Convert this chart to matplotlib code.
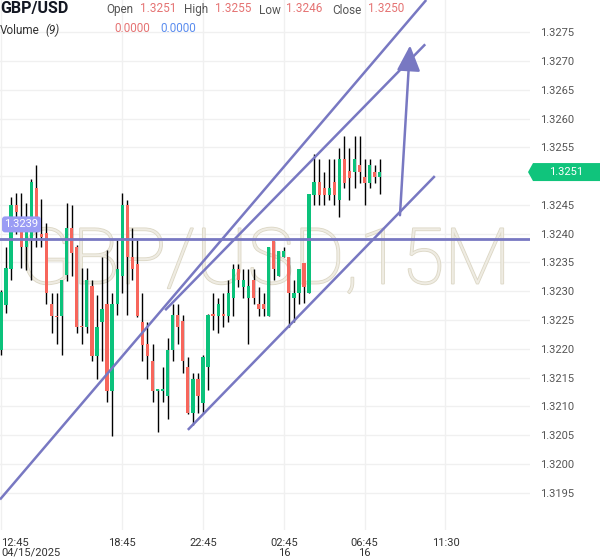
import matplotlib
matplotlib.use('Agg')
import matplotlib.pyplot as plt
import matplotlib.patheffects as pe
from matplotlib.patches import FancyBboxPatch, Polygon
from matplotlib.transforms import IdentityTransform
import numpy as np

plt.rcParams['font.family'] = ['Roboto', 'DejaVu Sans']

# ---------------- data ----------------
opens = [1.32198, 1.32276, 1.32338, 1.32450, 1.32403, 1.32377, 1.32390, 1.32480, 1.32400, 1.32401,
         1.32278, 1.32257, 1.32257, 1.32328, 1.32409, 1.32377, 1.32240, 1.32237, 1.32309, 1.32188,
         1.32247, 1.32278, 1.32127, 1.32278, 1.32326, 1.32450, 1.32359, 1.32348, 1.32247, 1.32208,
         1.32179, 1.32127, 1.32127, 1.32117, 1.32198, 1.32259, 1.32249, 1.32169, 1.32088, 1.32147,
         1.32106, 1.32169, 1.32258, 1.32257, 1.32258, 1.32257, 1.32288, 1.32339, 1.32308, 1.32288,
         1.32319, 1.32278, 1.32278, 1.32257, 1.32388, 1.32326, 1.32359, 1.32359, 1.32288, 1.32297,
         1.32349, 1.32297, 1.32468, 1.32490, 1.32479, 1.32468, 1.32490, 1.32458, 1.32529, 1.32509,
         1.32507, 1.32519, 1.32498, 1.32488, 1.32507, 1.32498]
highs = [1.32302, 1.32377, 1.32464, 1.32470, 1.32470, 1.32453, 1.32495, 1.32519, 1.32460, 1.32418,
         1.32297, 1.32297, 1.32320, 1.32453, 1.32450, 1.32380, 1.32340, 1.32340, 1.32319, 1.32293,
         1.32360, 1.32372, 1.32297, 1.32389, 1.32470, 1.32458, 1.32409, 1.32389, 1.32297, 1.32247,
         1.32208, 1.32130, 1.32169, 1.32218, 1.32278, 1.32278, 1.32259, 1.32186, 1.32157, 1.32157,
         1.32189, 1.32260, 1.32297, 1.32288, 1.32297, 1.32319, 1.32348, 1.32348, 1.32339, 1.32339,
         1.32339, 1.32308, 1.32297, 1.32377, 1.32388, 1.32369, 1.32377, 1.32359, 1.32319, 1.32339,
         1.32349, 1.32469, 1.32539, 1.32529, 1.32507, 1.32529, 1.32529, 1.32548, 1.32569, 1.32548,
         1.32569, 1.32569, 1.32529, 1.32529, 1.32519, 1.32529]
lows = [1.32189, 1.32262, 1.32319, 1.32400, 1.32340, 1.32337, 1.32319, 1.32377, 1.32377, 1.32278,
        1.32228, 1.32208, 1.32189, 1.32318, 1.32326, 1.32228, 1.32208, 1.32228, 1.32178, 1.32147,
        1.32178, 1.32108, 1.32049, 1.32259, 1.32297, 1.32259, 1.32319, 1.32256, 1.32178, 1.32147,
        1.32108, 1.32056, 1.32108, 1.32078, 1.32178, 1.32208, 1.32157, 1.32086, 1.32068, 1.32088,
        1.32089, 1.32128, 1.32233, 1.32228, 1.32238, 1.32247, 1.32257, 1.32308, 1.32288, 1.32208,
        1.32278, 1.32257, 1.32257, 1.32257, 1.32319, 1.32326, 1.32359, 1.32238, 1.32247, 1.32278,
        1.32279, 1.32297, 1.32450, 1.32450, 1.32450, 1.32458, 1.32450, 1.32429, 1.32479, 1.32458,
        1.32479, 1.32488, 1.32450, 1.32479, 1.32488, 1.32469]
closes = [1.32299, 1.32340, 1.32450, 1.32438, 1.32377, 1.32403, 1.32490, 1.32403, 1.32395, 1.32297,
          1.32257, 1.32255, 1.32319, 1.32409, 1.32367, 1.32237, 1.32237, 1.32319, 1.32188, 1.32237,
          1.32269, 1.32127, 1.32278, 1.32339, 1.32450, 1.32359, 1.32338, 1.32257, 1.32207, 1.32188,
          1.32127, 1.32128, 1.32129, 1.32198, 1.32259, 1.32238, 1.32178, 1.32088, 1.32147, 1.32117,
          1.32186, 1.32259, 1.32257, 1.32278, 1.32257, 1.32297, 1.32339, 1.32319, 1.32319, 1.32309,
          1.32288, 1.32269, 1.32269, 1.32377, 1.32339, 1.32369, 1.32369, 1.32297, 1.32297, 1.32339,
          1.32308, 1.32469, 1.32490, 1.32468, 1.32468, 1.32479, 1.32468, 1.32529, 1.32488, 1.32497,
          1.32529, 1.32507, 1.32488, 1.32519, 1.32498, 1.32507]

x_tick_pos = [0, 24, 40, 56, 72, 88]
x_tick_labels = ['12:45\n04/15/2025', '18:45', '22:45', '02:45\n16', '06:45\n16', '11:30']
y_ticks = [1.3195, 1.3200, 1.3205, 1.3210, 1.3215, 1.3220, 1.3225, 1.3230, 1.3235,
           1.3240, 1.3245, 1.3250, 1.3255, 1.3260, 1.3265, 1.3270, 1.3275]

h_level = 1.3239
line_a_x = [-0.2, 84.2]
line_a_y = [1.31938, 1.32806]
line_b_x = [32.5, 84.0]
line_b_y = [1.32267, 1.32729]
line_c_x = [37.0, 85.9]
line_c_y = [1.32059, 1.32500]
arrow_from = (79.0, 1.32432)
arrow_to = (81.0, 1.32727)

header = {'Open': '1.3251', 'High': '1.3255', 'Low': '1.3246', 'Close': '1.3250'}

# ---------------- style ----------------
GREEN = '#0bc27b'
RED = '#f7665c'
LINE = '#7878c2'
W, H = 600, 558

fig = plt.figure(figsize=(W / 100, H / 100), dpi=100)
fig.patch.set_facecolor('white')
ax = fig.add_axes([0, 28 / H, 530 / W, 530 / H])
ax.set_xlim(-0.2, 104.75)
ax.set_ylim(1.31885, 1.32806)
for s in ax.spines.values():
    s.set_visible(False)

ax.set_yticks(y_ticks)
ax.set_yticklabels([f'{v:.4f}' for v in y_ticks])
ax.yaxis.tick_right()
ax.tick_params(axis='y', length=0, pad=7, labelsize=8, labelcolor='#555555')
ax.set_xticks(x_tick_pos)
ax.set_xticklabels(x_tick_labels, linespacing=0.95)
ax.tick_params(axis='x', length=0, pad=6, labelsize=8, labelcolor='#333333')
lbl0 = ax.get_xticklabels()[0]
lbl0.set_ha('left')
lbl0.set_multialignment('left')
ax.grid(True, color='#f0f0f0', lw=1)
ax.set_axisbelow(True)

# watermark
ax.text(0.5, 0.505, 'GBP/USD,15M', transform=ax.transAxes, ha='center', va='center',
        fontsize=56, fontweight='light', color='#efece3', zorder=1,
        path_effects=[pe.withStroke(linewidth=1.2, foreground='#dcd7c5')])

# candles
o = np.array(opens); h = np.array(highs); l = np.array(lows); c = np.array(closes)
idx = np.arange(len(o))
cols = np.where(c >= o, GREEN, RED)
ax.vlines(idx, l, h, color='black', lw=1, zorder=3)
bottom = np.minimum(o, c)
height = np.maximum(np.abs(c - o), 0.000025)
ax.bar(idx, height, bottom=bottom, width=0.64, color=cols, linewidth=0, zorder=4)

# drawings
ax.axhline(h_level, color=LINE, lw=2, zorder=5)
for xs, ys in [(line_a_x, line_a_y), (line_b_x, line_b_y), (line_c_x, line_c_y)]:
    ax.plot(xs, ys, color=LINE, lw=1.8, zorder=5, solid_capstyle='butt')
ax.annotate('', xy=arrow_to, xytext=arrow_from,
            arrowprops=dict(arrowstyle='-|>,head_length=1.3,head_width=0.6', color=LINE,
                            lw=1.8, mutation_scale=12, shrinkA=0, shrinkB=0), zorder=6)

# header (pixel coordinates, top-down)
def px(x, y):
    return x / W, 1 - y / H

fig.text(*px(0, 9), 'GBP/USD', fontsize=11.5, fontweight='bold', color='#131722', va='center')
hx = [(106, 140), (184, 215), (259, 286), (332, 368)]
for (k, v), (xa, xb) in zip(header.items(), hx):
    fig.text(*px(xa, 10), k, fontsize=8.5, color='#555555', va='center')
    fig.text(*px(xb, 8), v, fontsize=8.5, color='#e57373', va='center')
fig.text(*px(0, 30), 'Volume', fontsize=8.5, color='#333333', va='center')
fig.text(*px(45, 30), '(9)', fontsize=8.5, color='#333333', va='center', style='italic')
fig.text(*px(114, 28), '0.0000', fontsize=8.5, color='#e57373', va='center')
fig.text(*px(160, 28), '0.0000', fontsize=8.5, color='#5b8def', va='center')

# labels tied to data
fig.canvas.draw()
yl = ax.transData.transform((0, h_level))[1]
box = FancyBboxPatch((2, yl + 7), 39, 16, boxstyle='round,pad=0,rounding_size=3',
                     fc='#9a9cf4', ec='none', transform=IdentityTransform(), zorder=10)
fig.add_artist(box)
fig.text(21.5, yl + 15, f'{h_level:.4f}', transform=IdentityTransform(), ha='center', va='center',
         fontsize=8, color='white', zorder=11)

yc = ax.transData.transform((0, closes[-1]))[1]
poly = Polygon([(528, yc), (533, yc + 9), (600, yc + 9), (600, yc - 9), (533, yc - 9)],
               closed=True, fc='#10c47c', ec='none', transform=IdentityTransform(), zorder=10)
fig.add_artist(poly)
fig.text(566, yc, f'{closes[-1]:.4f}', transform=IdentityTransform(), ha='center', va='center',
         fontsize=8, color='white', zorder=11)

fig.savefig('out.png', dpi=100)
